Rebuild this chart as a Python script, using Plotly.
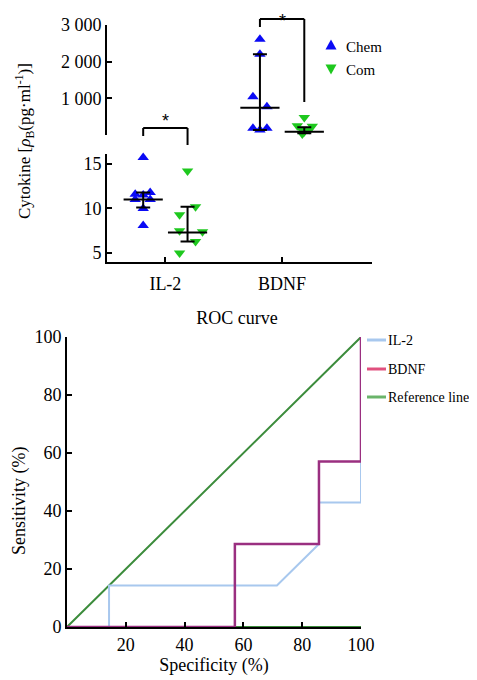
import plotly.graph_objects as go

# ---------------- data ----------------
categories = ["IL-2", "BDNF"]

il2_chem = [15.7, 11.8, 11.6, 11.5, 11.0, 11.0, 10.0, 8.1]
il2_com = [14.2, 10.2, 9.3, 7.5, 7.4, 6.3, 5.0]
bdnf_chem = [2610, 2200, 1045, 773, 182, 136, 182]
bdnf_com = [480, 250, 240, 160, 150, 90, 30]

# median and interquartile range  (median, low, high)
il2_chem_stat = [11.0, 10.1, 11.8]
il2_com_stat = [7.3, 6.3, 10.2]
bdnf_chem_stat = [745, 136, 2200]
bdnf_com_stat = [90, 45, 210]

upper_ticks = [1000, 2000, 3000]
upper_tick_text = ["1 000", "2 000", "3 000"]

roc_il2_x = [0, 14.3, 14.3, 71.4, 85.7, 85.7, 100, 100, 100]
roc_il2_y = [0, 0, 14.3, 14.3, 28.6, 42.9, 42.9, 57.1, 100]
roc_bdnf_x = [0, 57.1, 57.1, 85.7, 85.7, 100, 100]
roc_bdnf_y = [0, 0, 28.6, 28.6, 57.1, 57.1, 100]
roc_ref_x = [100, 0, 100]
roc_ref_y = [0, 0, 100]

# ---------------- layout constants ----------------
OFF = 8  # page body margin of the browser
W, H = 477 - OFF, 680 - OFF
FONT = "Liberation Serif"
BLUE = "#0a0af5"
GREEN = "#1ec81e"
C_IL2 = "#a8c8ee"
C_BDNF = "#9a2f80"
C_REF = "#3c8c3c"
GROUP_OFF = 0.19
PX = 1 / 117.0  # data units per pixel on category axis
jit_il2_chem = [0, 7, -8, 0, -8, 7, 0, 0]
jit_il2_com = [0, 8, -8, -8, 15, 8, -8]
jit_bdnf_chem = [0, 0, -7, 7, -7, 0, 7]
jit_bdnf_com = [0, -7, 8, -3, 5, 0, -2]


def py(p):
    return 1 - (p - OFF) / H


def px(p):
    return (p - OFF) / W


cat_x = {c: i + 1 for i, c in enumerate(categories)}

fig = go.Figure()


def add_points(vals, cat, off, jit, color, symbol, name, yaxis):
    fig.add_trace(go.Scatter(
        x=[cat_x[cat] + off + j * PX for j in jit], y=vals,
        mode="markers", xaxis="x", yaxis=yaxis,
        marker=dict(symbol=symbol, size=10, color=color),
        name=name, showlegend=False, cliponaxis=False))


def add_stat(stat, cat, off, yaxis):
    med, lo, hi = stat
    fig.add_trace(go.Scatter(
        x=[cat_x[cat] + off], y=[med], mode="markers", xaxis="x", yaxis=yaxis,
        marker=dict(symbol="line-ew", size=28, line=dict(width=2, color="black")),
        error_y=dict(type="data", symmetric=False, array=[hi - med],
                     arrayminus=[med - lo], color="black", thickness=2, width=7),
        showlegend=False, hoverinfo="skip", cliponaxis=False))


add_points(il2_chem, "IL-2", -GROUP_OFF, jit_il2_chem, BLUE, "triangle-up", "Chem", "y")
add_points(il2_com, "IL-2", GROUP_OFF, jit_il2_com, GREEN, "triangle-down", "Com", "y")
add_points(bdnf_chem, "BDNF", -GROUP_OFF, jit_bdnf_chem, BLUE, "triangle-up", "Chem", "y2")
add_points(bdnf_com, "BDNF", GROUP_OFF, jit_bdnf_com, GREEN, "triangle-down", "Com", "y2")
add_stat(il2_chem_stat, "IL-2", -GROUP_OFF, "y")
add_stat(il2_com_stat, "IL-2", GROUP_OFF, "y")
add_stat(bdnf_chem_stat, "BDNF", -GROUP_OFF, "y2")
add_stat(bdnf_com_stat, "BDNF", GROUP_OFF, "y2")

# ROC traces
fig.add_trace(go.Scatter(x=roc_ref_x, y=roc_ref_y, mode="lines", xaxis="x2", yaxis="y3",
                         name="Reference line", line=dict(color=C_REF, width=2),
                         showlegend=False, cliponaxis=False))
fig.add_trace(go.Scatter(x=roc_il2_x, y=roc_il2_y, mode="lines", xaxis="x2", yaxis="y3",
                         name="IL-2", line=dict(color=C_IL2, width=2),
                         showlegend=False, cliponaxis=False))
fig.add_trace(go.Scatter(x=roc_bdnf_x, y=roc_bdnf_y, mode="lines", xaxis="x2", yaxis="y3",
                         name="BDNF", line=dict(color=C_BDNF, width=2.5),
                         showlegend=False, cliponaxis=False))

axis_common = dict(showline=True, linecolor="black", linewidth=2, showgrid=False,
                   zeroline=False, ticks="inside", ticklen=5, tickwidth=1.5, tickcolor="black",
                   tickfont=dict(family=FONT, size=18, color="black"), automargin=False)

fig.update_layout(
    width=W, height=H, margin=dict(l=0, r=0, t=0, b=0, autoexpand=False),
    paper_bgcolor="white", plot_bgcolor="white",
    font=dict(family=FONT, color="black"),
    showlegend=False,
    xaxis=dict(domain=[px(107), px(372)], range=[0.5, 2.77], anchor="y",
               tickvals=[1, 2], ticktext=categories, ticklabelstandoff=4, **axis_common),
    yaxis=dict(domain=[py(262), py(154)], range=[4, 16.1], anchor="x",
               tickvals=[5, 10, 15], **axis_common),
    yaxis2=dict(domain=[py(135), py(25)], range=[0, 3000], anchor="x",
                tickvals=upper_ticks, ticktext=upper_tick_text, **axis_common),
    xaxis2=dict(domain=[px(67), px(361)], range=[0, 100], anchor="y3",
                tickvals=[20, 40, 60, 80, 100],
                title=dict(text="Specificity (%)", font=dict(family=FONT, size=18), standoff=4),
                **axis_common),
    yaxis3=dict(domain=[py(627), py(337)], range=[0, 100], anchor="x2",
                tickvals=[0, 20, 40, 60, 80, 100], **axis_common),
    title=dict(text="ROC curve", x=px(237), y=py(318), xanchor="center", yanchor="middle",
               font=dict(family=FONT, size=18)),
)

# rotated axis titles
fig.add_annotation(x=px(25), y=py(141), xref="paper", yref="paper", showarrow=False,
                   xanchor="center", yanchor="middle", textangle=-90,
                   text="Cytokine [<i>ρ</i><sub>B</sub>(pg·ml<sup>-1</sup>)]",
                   font=dict(family=FONT, size=17))
fig.add_annotation(x=px(20), y=py(501), xref="paper", yref="paper", showarrow=False,
                   xanchor="center", yanchor="middle", textangle=-90,
                   text="Sensitivity (%)", font=dict(family=FONT, size=18))


# top legend (Chem / Com)
def tri(cx, cy, up, color):
    s = 5.5
    if up:
        pts = [(cx - s, cy + s * 0.8), (cx + s, cy + s * 0.8), (cx, cy - s * 1.0)]
    else:
        pts = [(cx - s, cy - s * 0.8), (cx + s, cy - s * 0.8), (cx, cy + s * 1.0)]
    path = "M " + " L ".join(f"{px(a):.5f},{py(b):.5f}" for a, b in pts) + " Z"
    fig.add_shape(type="path", path=path, xref="paper", yref="paper",
                  fillcolor=color, line=dict(width=0))


tri(331, 45, True, BLUE)
tri(331, 69, False, GREEN)
fig.add_annotation(x=px(344), y=py(47), xref="paper", yref="paper", showarrow=False,
                   xanchor="left", yanchor="middle", text="Chem",
                   font=dict(family=FONT, size=15))
fig.add_annotation(x=px(344), y=py(70), xref="paper", yref="paper", showarrow=False,
                   xanchor="left", yanchor="middle", text="Com",
                   font=dict(family=FONT, size=15))

# ROC legend
for label, col, yy in [("IL-2", C_IL2, 340), ("BDNF", "#e0507e", 369),
                       ("Reference line", "#6ab46a", 397)]:
    fig.add_shape(type="line", x0=px(367), x1=px(386), y0=py(yy), y1=py(yy),
                  xref="paper", yref="paper", line=dict(color=col, width=3))
    fig.add_annotation(x=px(386), y=py(yy), xref="paper", yref="paper", showarrow=False,
                       xanchor="left", yanchor="middle", text=label,
                       font=dict(family=FONT, size=14))

# significance brackets
br = dict(type="line", line=dict(color="black", width=2))
fig.add_shape(x0=1 - GROUP_OFF, x1=1 + GROUP_OFF, y0=py(128), y1=py(128), xref="x", yref="paper", **br)
fig.add_shape(x0=1 - GROUP_OFF, x1=1 - GROUP_OFF, y0=py(128), y1=py(136), xref="x", yref="paper", **br)
fig.add_shape(x0=1 + GROUP_OFF, x1=1 + GROUP_OFF, y0=py(128), y1=py(145), xref="x", yref="paper", **br)
fig.add_shape(x0=2 - GROUP_OFF, x1=2 + GROUP_OFF, y0=py(19), y1=py(19), xref="x", yref="paper", **br)
fig.add_shape(x0=2 - GROUP_OFF, x1=2 - GROUP_OFF, y0=py(19), y1=py(27), xref="x", yref="paper", **br)
fig.add_shape(x0=2 + GROUP_OFF, x1=2 + GROUP_OFF, y0=py(19), y1=py(102), xref="x", yref="paper", **br)
fig.add_annotation(x=1, y=py(121), xref="x", yref="paper", text="*", showarrow=False,
                   xanchor="center", yanchor="middle",
                   font=dict(family="Liberation Sans", size=18))
fig.add_annotation(x=2, y=py(8.5), xref="x", yref="paper", text="*", showarrow=False,
                   xanchor="center", yanchor="top",
                   font=dict(family="Liberation Sans", size=18))

fig.write_html("out.html")
